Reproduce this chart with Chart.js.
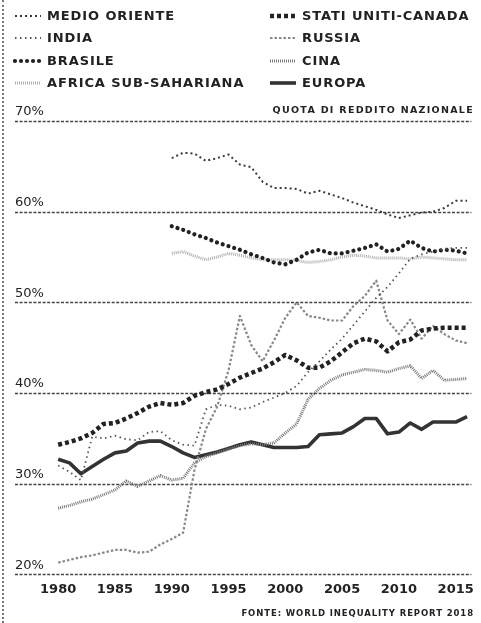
<!DOCTYPE html>
<html><head><meta charset="utf-8">
<script src="https://cdn.jsdelivr.net/npm/chart.js@4/dist/chart.umd.min.js"></script>
<style>
html,body{margin:0;padding:0;background:#fff;}
body{width:481px;height:623px;position:relative;overflow:hidden;font-family:"DejaVu Sans",sans-serif;color:#222;}
#wrap{position:absolute;left:0;top:0;width:481px;height:623px;}
.border{position:absolute;left:2px;top:0;height:623px;border-left:2px dotted #777;}
.leg{position:absolute;font-weight:bold;font-size:13px;letter-spacing:0.9px;line-height:16px;white-space:nowrap;}
.note{position:absolute;right:7px;font-weight:bold;white-space:nowrap;}
</style></head><body>
<div id="wrap"><canvas id="c" width="481" height="623"></canvas></div>
<div class="border"></div>
<div id="legend"></div>
<div class="note" style="top:104px;font-size:9.5px;letter-spacing:1.3px;">QUOTA DI REDDITO NAZIONALE</div>
<div class="note" style="top:608px;font-size:8.5px;letter-spacing:0.9px;">FONTE: WORLD INEQUALITY REPORT 2018</div>
<script>
const years = [1980,1981,1982,1983,1984,1985,1986,1987,1988,1989,1990,1991,1992,1993,1994,1995,1996,1997,1998,1999,2000,2001,2002,2003,2004,2005,2006,2007,2008,2009,2010,2011,2012,2013,2014,2015,2016];
const xTickVals = [1980,1985,1990,1995,2000,2005,2010,2015];
const yTickVals = [20,30,40,50,60,70];
const N = null;
const medioOriente = [N,N,N,N,N,N,N,N,N,N,65.9,66.5,66.4,65.6,65.9,66.3,65.2,64.9,63.3,62.6,62.6,62.5,62.0,62.3,61.9,61.5,61.0,60.6,60.2,59.7,59.3,59.6,59.9,60.0,60.4,61.2,61.2];
const statiUniti = [34.3,34.6,35.0,35.6,36.6,36.7,37.2,37.8,38.5,38.9,38.7,38.9,39.7,40.1,40.4,41.0,41.7,42.2,42.7,43.4,44.2,43.6,42.8,42.8,43.5,44.5,45.5,46.0,45.7,44.6,45.6,45.9,46.9,47.1,47.2,47.2,47.2];
const india = [32.0,31.3,30.4,35.2,35.0,35.3,34.9,34.8,35.7,35.8,34.8,34.3,34.2,38.2,38.7,38.6,38.2,38.4,39.0,39.5,40.0,40.8,42.3,43.5,44.8,46.0,47.5,49.0,50.5,51.7,53.2,54.8,55.3,55.6,55.9,56.0,56.0];
const russia = [21.3,21.6,21.9,22.1,22.4,22.7,22.7,22.4,22.5,23.3,23.9,24.6,31.5,36.0,38.5,42.5,48.5,45.3,43.5,45.8,48.3,50.0,48.5,48.3,48.0,48.0,49.6,50.7,52.4,48.0,46.5,48.1,46.0,47.4,46.5,45.8,45.5];
const brasile = [N,N,N,N,N,N,N,N,N,N,58.4,58.0,57.5,57.1,56.6,56.2,55.8,55.3,54.9,54.4,54.2,54.7,55.5,55.8,55.4,55.4,55.7,56.0,56.4,55.6,55.9,56.8,56.0,55.6,55.8,55.7,55.4];
const cina = [27.3,27.6,28.0,28.3,28.8,29.3,30.3,29.7,30.3,30.9,30.4,30.6,32.3,33.0,33.4,33.8,34.2,34.4,34.3,34.5,35.6,36.6,39.3,40.5,41.4,42.0,42.3,42.6,42.5,42.3,42.7,43.0,41.6,42.5,41.4,41.5,41.6];
const africa = [N,N,N,N,N,N,N,N,N,N,55.4,55.6,55.1,54.7,55.0,55.4,55.2,54.9,54.7,54.7,54.7,54.6,54.4,54.5,54.7,55.0,55.2,55.1,54.9,54.9,54.9,54.8,55.0,54.9,54.8,54.7,54.7];
const europa = [32.7,32.3,31.1,31.9,32.7,33.4,33.6,34.5,34.7,34.7,34.1,33.4,32.9,33.2,33.5,33.9,34.3,34.6,34.3,34.0,34.0,34.0,34.1,35.4,35.5,35.6,36.3,37.2,37.2,35.5,35.7,36.7,36.0,36.8,36.8,36.8,37.4];

const series = [
  {label:'MEDIO ORIENTE', data:medioOriente, color:'#3a3a3a', width:2, dash:[2,3], cap:'butt', col:0, row:0},
  {label:'STATI UNITI-CANADA', data:statiUniti, color:'#222', width:4.5, dash:[4,3], cap:'butt', col:1, row:0},
  {label:'INDIA', data:india, color:'#555', width:1.8, dash:[1.5,3.5], cap:'butt', col:0, row:1},
  {label:'RUSSIA', data:russia, color:'#888', width:2.2, dash:[2.5,2], cap:'butt', col:1, row:1},
  {label:'BRASILE', data:brasile, color:'#222', width:4.2, dash:[0.01,6], cap:'round', col:0, row:2},
  {label:'CINA', data:cina, color:'#7a7a7a', width:3, dash:[1,1], cap:'butt', col:1, row:2},
  {label:'AFRICA SUB-SAHARIANA', data:africa, color:'#b0b0b0', width:3, dash:[1,1], cap:'butt', col:0, row:3},
  {label:'EUROPA', data:europa, color:'#333', width:3.6, dash:[], cap:'butt', col:1, row:3}
];

// HTML legend
const legend = document.getElementById('legend');
const rowY = [8, 30, 53, 75];
const colSw = [13, 268];
const colTx = [47, 302];
series.forEach(s => {
  const d = document.createElement('div');
  d.className = 'leg';
  d.style.left = colTx[s.col] + 'px';
  d.style.top = rowY[s.row] + 'px';
  d.textContent = s.label;
  legend.appendChild(d);
  const svgNS = 'http://www.w3.org/2000/svg';
  const svg = document.createElementNS(svgNS, 'svg');
  svg.setAttribute('width', 30); svg.setAttribute('height', 16);
  svg.style.position = 'absolute';
  svg.style.left = colSw[s.col] + 'px';
  svg.style.top = rowY[s.row] + 'px';
  const ln = document.createElementNS(svgNS, 'line');
  ln.setAttribute('x1', 2); ln.setAttribute('x2', 28);
  ln.setAttribute('y1', 8); ln.setAttribute('y2', 8);
  ln.setAttribute('stroke', s.color);
  ln.setAttribute('stroke-width', s.width);
  if (s.dash.length) ln.setAttribute('stroke-dasharray', s.dash.join(' '));
  ln.setAttribute('stroke-linecap', s.cap);
  svg.appendChild(ln);
  legend.appendChild(svg);
});

const datasets = series.map(s => ({
  label: s.label,
  data: years.map((y, i) => ({x: y, y: s.data[i]})),
  borderColor: s.color,
  borderWidth: s.width,
  borderDash: s.dash,
  borderCapStyle: s.cap,
  borderJoinStyle: 'round',
  pointRadius: 0,
  tension: 0,
  fill: false,
  spanGaps: false
}));

// dashed horizontal gridlines at the y scale's ticks
const dashedGrid = {
  id: 'dashedGrid',
  beforeDatasetsDraw(chart) {
    const {ctx, chartArea} = chart;
    const ys = chart.scales.y;
    ctx.save();
    ctx.strokeStyle = '#444';
    ctx.lineWidth = 1.4;
    ctx.setLineDash([3, 1.6]);
    ys.ticks.forEach(t => {
      const py = Math.round(ys.getPixelForValue(t.value)) + 0.5;
      ctx.beginPath();
      ctx.moveTo(chartArea.left, py);
      ctx.lineTo(chartArea.right, py);
      ctx.stroke();
    });
    ctx.restore();
  }
};

new Chart(document.getElementById('c'), {
  type: 'line',
  data: {datasets},
  options: {
    responsive: false,
    animation: false,
    layout: {padding: {left: 15, right: 6, top: 121, bottom: 19}},
    plugins: {legend: {display: false}, tooltip: {enabled: false}},
    scales: {
      x: {
        type: 'linear', min: 1976.2, max: 2016.38,
        afterBuildTicks: sc => { sc.ticks = xTickVals.map(v => ({value: v})); },
        grid: {display: false, drawTicks: false},
        border: {display: false},
        ticks: {padding: 7, color: '#222', font: {family: 'DejaVu Sans', size: 13, weight: 'bold'}, callback: v => String(v), maxRotation: 0, autoSkip: false}
      },
      y: {
        min: 20, max: 70,
        afterBuildTicks: sc => { sc.ticks = yTickVals.map(v => ({value: v})); },
        grid: {display: false, drawTicks: false},
        border: {display: false},
        ticks: {mirror: true, padding: 0, labelOffset: -9, color: '#222', font: {family: 'DejaVu Sans', size: 13}, callback: v => v + '%'}
      }
    }
  },
  plugins: [dashedGrid]
});
</script>
</body></html>
